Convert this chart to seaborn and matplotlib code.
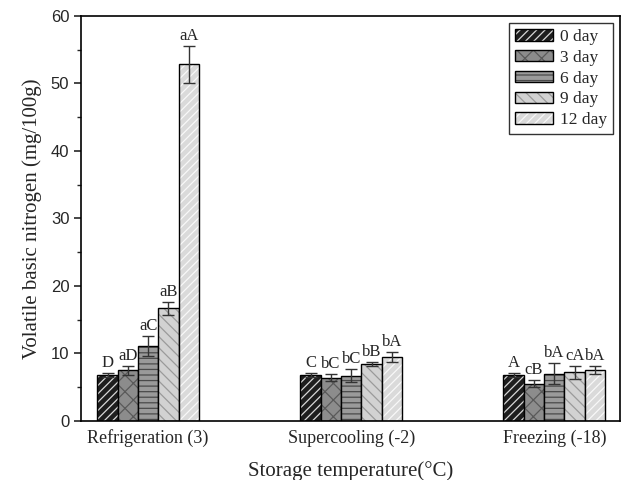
import numpy as np
import pandas as pd
import matplotlib
matplotlib.use('Agg')
import matplotlib.pyplot as plt
import seaborn as sns

# values
storage = ['Refrigeration (3)', 'Supercooling (-2)', 'Freezing (-18)']
days = ['0 day', '3 day', '6 day', '9 day', '12 day']

vbn_mean = {
    '0 day':  [6.8, 6.8, 6.8],
    '3 day':  [7.5, 6.4, 5.5],
    '6 day':  [11.1, 6.7, 7.0],
    '9 day':  [16.7, 8.5, 7.2],
    '12 day': [52.8, 9.5, 7.6],
}
vbn_err = {
    '0 day':  [0.3, 0.3, 0.3],
    '3 day':  [0.7, 0.5, 0.5],
    '6 day':  [1.5, 1.0, 1.6],
    '9 day':  [0.95, 0.3, 1.0],
    '12 day': [2.75, 0.7, 0.6],
}
sig_labels = {
    '0 day':  ['D', 'C', 'A'],
    '3 day':  ['aD', 'bC', 'cB'],
    '6 day':  ['aC', 'bC', 'bA'],
    '9 day':  ['aB', 'bB', 'cA'],
    '12 day': ['aA', 'bA', 'bA'],
}

# face colour, hatch pattern, hatch colour per storage day
face = {'0 day': '#1e1e1e', '3 day': '#8c8c8c', '6 day': '#9a9a9a',
        '9 day': '#d2d2d2', '12 day': '#dadada'}
hatches = {'0 day': '////', '3 day': 'xx', '6 day': '---',
           '9 day': '\\\\\\', '12 day': '////'}
hatch_col = {'0 day': '#d8d8d8', '3 day': '#5a5a5a', '6 day': '#4a4a4a',
             '9 day': '#9a9a9a', '12 day': '#f8f8f8'}

rows = []
for d in days:
    for s, v in zip(storage, vbn_mean[d]):
        rows.append({'storage': s, 'day': d, 'vbn': v})
df = pd.DataFrame(rows)

sns.set_style('ticks')
serif = ['Liberation Serif', 'DejaVu Serif']
sans = ['Liberation Sans', 'DejaVu Sans']
plt.rcParams['font.family'] = serif
plt.rcParams['hatch.linewidth'] = 0.9

fig = plt.figure(figsize=(6.24, 4.8), dpi=100)
ax = fig.add_axes([0.130, 0.123, 0.864, 0.844])

sns.barplot(data=df, x='storage', y='vbn', hue='day', order=storage,
            hue_order=days, palette=face, width=0.5, gap=0,
            errorbar=None, legend=False, ax=ax,
            edgecolor='black', linewidth=1.0)

for d, cont in zip(days, ax.containers):
    for i, bar in enumerate(cont):
        bar.set_hatch(hatches[d])
        bar._hatch_color = matplotlib.colors.to_rgba(hatch_col[d])
        cx = bar.get_x() + bar.get_width() / 2
        top = vbn_mean[d][i] + vbn_err[d][i]
        ax.errorbar(cx, vbn_mean[d][i], yerr=vbn_err[d][i], fmt='none',
                    ecolor='#333333', elinewidth=1.0, capsize=4, capthick=1.0)
        ax.text(cx, top + 0.3, sig_labels[d][i], ha='center', va='bottom',
                fontsize=12)

ax.set_xlim(-0.33, 2.325)
ax.set_ylim(0, 60)
ax.set_yticks(np.arange(0, 61, 10))
ax.set_yticks(np.arange(0, 61, 5), minor=True)
ax.tick_params(axis='y', which='major', direction='out', length=5, width=1.2)
ax.tick_params(axis='y', which='minor', direction='out', length=3, width=1.0)
ax.tick_params(axis='x', length=0, pad=6)
for lab in ax.get_yticklabels():
    lab.set_family(sans)
    lab.set_fontsize(12)
for lab in ax.get_xticklabels():
    lab.set_fontsize(13)
for sp in ax.spines.values():
    sp.set_visible(True)
    sp.set_linewidth(1.2)
    sp.set_color('black')

ax.set_xlabel('Storage temperature(°C)', fontsize=15, labelpad=10)
ax.set_ylabel('Volatile basic nitrogen (mg/100g)', fontsize=15, labelpad=6)

leg = ax.legend(ax.containers, days, loc='upper right', fontsize=12.5,
                frameon=True, fancybox=False, edgecolor='black',
                handlelength=2.2, handleheight=0.65, handletextpad=0.4,
                labelspacing=0.28, borderpad=0.35, borderaxespad=0.4)
leg.get_frame().set_linewidth(1.0)

fig.savefig('out.png', dpi=100)
